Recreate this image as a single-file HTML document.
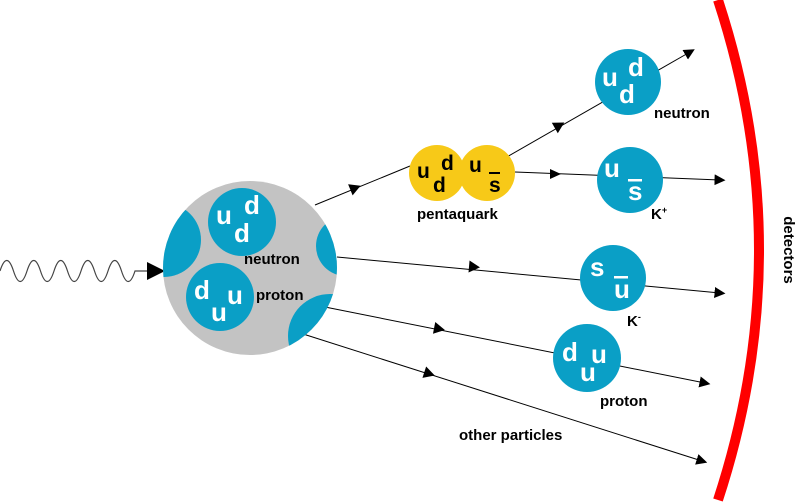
<html><body style="margin:0;background:#fff">
<svg width="800" height="502" viewBox="0 0 800 502" xmlns="http://www.w3.org/2000/svg" font-family="Liberation Sans, Arial, sans-serif" font-weight="bold">
<defs>
<clipPath id="c"><circle cx="250" cy="268" r="87"/></clipPath>
<marker id="a" viewBox="0 0 10 10" refX="5" refY="5" markerWidth="11" markerHeight="11" markerUnits="userSpaceOnUse" orient="auto"><path d="M0,0L10,5L0,10z" fill="#000"/></marker>
</defs>
<g stroke="#000" stroke-width="1" fill="none">
<path d="M315,205 L410,166" />
<path d="M505,158 L690,52" marker-end="url(#a)"/>
<path d="M515,172 L720,180" marker-end="url(#a)"/>
<path d="M337,257 L720,293" marker-end="url(#a)"/>
<path d="M325,307 L705,383" marker-end="url(#a)"/>
<path d="M300,333 L702,461" marker-end="url(#a)"/>
</g>
<path d="M0,271 q6.75,-21 13.5,0 t13.5,0 t13.5,0 t13.5,0 t13.5,0 t13.5,0 t13.5,0 t13.5,0 t13.5,0 t13.5,0 L150,271" stroke="#444" stroke-width="1.2" fill="none"/>
<g fill="#000">
<path d="M350,182 l11,6 l-11,6z" transform="rotate(-22 355 188)"/>
<path d="M147,262 L165,271 L147,280z"/>
<path d="M554,119 l11,6 l-11,6z" transform="rotate(-30 560 125)"/>
<path d="M550,169 l11,5 l-11,5z"/>
<path d="M469,261 l11,6 l-11,6z" transform="rotate(5 475 267)"/>
<path d="M434,323 l11,6 l-11,6z" transform="rotate(11 440 329)"/>
<path d="M424,368 l11,6 l-11,6z" transform="rotate(18 430 374)"/>
</g>
<circle cx="250" cy="268" r="87" fill="#c3c3c3"/>
<g clip-path="url(#c)" fill="#0a9fc6">
<circle cx="164" cy="240" r="37"/>
<circle cx="346" cy="246" r="30"/>
<circle cx="330" cy="336" r="42"/>
</g>
<path d="M718,0 Q800,250 718,500" stroke="#ff0000" stroke-width="10" fill="none"/>
<g fill="#0a9fc6">
<circle cx="242" cy="222" r="34"/>
<circle cx="220" cy="297" r="34"/>
<circle cx="628" cy="82" r="33"/>
<circle cx="630" cy="180" r="33"/>
<circle cx="613" cy="278" r="33"/>
<circle cx="587" cy="358" r="34"/>
</g>
<circle cx="437" cy="173" r="28" fill="#f7c918"/>
<circle cx="487" cy="173" r="28" fill="#f7c918"/>
<g fill="#fff" font-size="26">
<text x="216" y="224">u</text><text x="244" y="214">d</text><text x="234" y="242">d</text>
<text x="194" y="299">d</text><text x="227" y="304">u</text><text x="211" y="321">u</text>
<text x="602" y="86">u</text><text x="628" y="76">d</text><text x="619" y="103">d</text>
<text x="604" y="177">u</text><text x="628" y="200">s</text><rect x="628" y="179" width="14" height="2.5"/>
<text x="590" y="276">s</text><text x="614" y="298">u</text><rect x="614" y="276" width="14" height="2.5"/>
<text x="562" y="361">d</text><text x="591" y="363">u</text><text x="580" y="381">u</text>
</g>
<g fill="#000" font-size="21">
<text x="417" y="178">u</text><text x="441" y="170">d</text><text x="433" y="192">d</text>
<text x="469" y="172">u</text><text x="489" y="192">s</text><rect x="489" y="172" width="11" height="2"/>
</g>
<g fill="#000" font-size="15">
<text x="244" y="264">neutron</text>
<text x="256" y="300">proton</text>
<text x="417" y="219">pentaquark</text>
<text x="654" y="118">neutron</text>
<text x="651" y="219">K<tspan font-size="9" dy="-6">+</tspan></text>
<text x="627" y="326">K<tspan font-size="9" dy="-6">-</tspan></text>
<text x="600" y="406">proton</text>
<text x="459" y="440">other particles</text>
<text transform="translate(784,250) rotate(90)" text-anchor="middle">detectors</text>
</g>
</svg>
</body></html>
